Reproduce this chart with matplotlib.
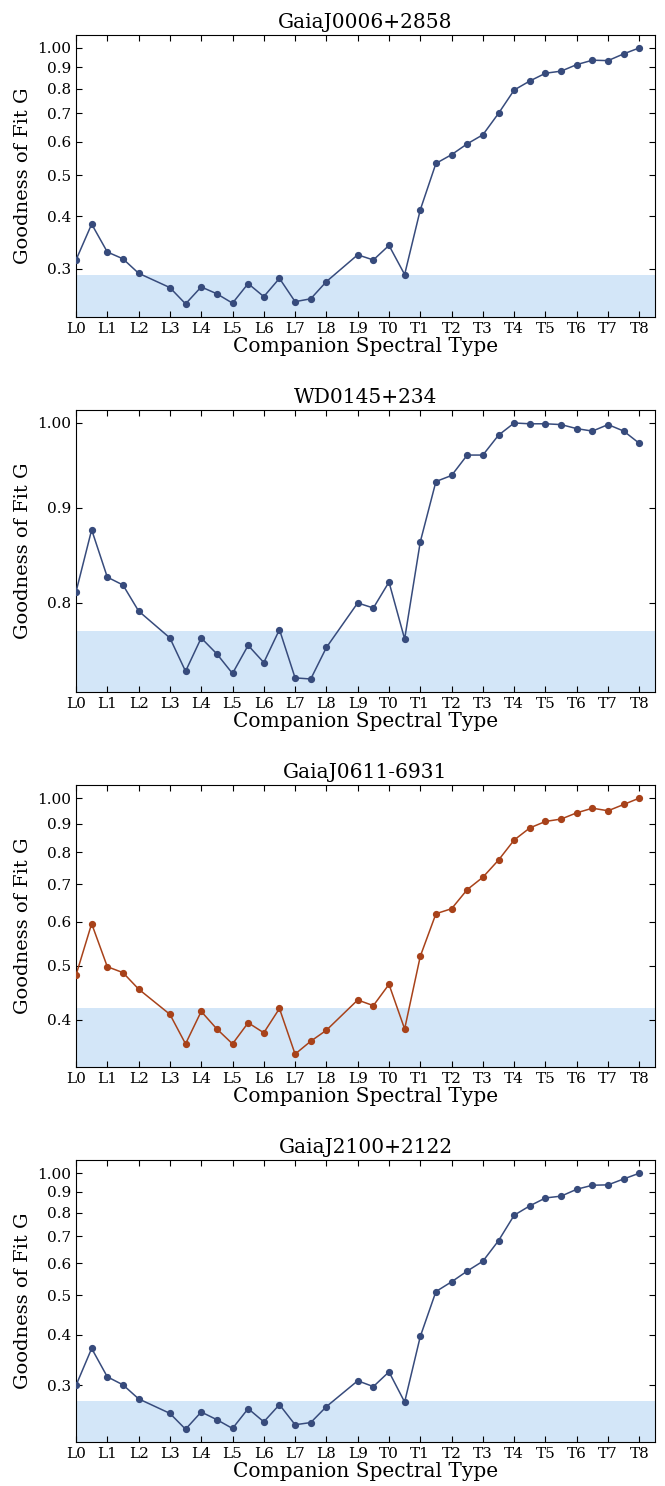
import matplotlib
matplotlib.use("Agg")
import matplotlib.pyplot as plt
import numpy as np

# Spectral types: L0..L9 -> 0..9, T0..T8 -> 10..18 (L2.5 and L8.5 absent)
spt_pos = [0, 0.5, 1, 1.5, 2, 3, 3.5, 4, 4.5, 5, 5.5, 6, 6.5, 7, 7.5, 8,
           9, 9.5, 10, 10.5, 11, 11.5, 12, 12.5, 13, 13.5, 14, 14.5, 15, 15.5,
           16, 16.5, 17, 17.5, 18]
xtick_pos = list(range(19))
xtick_labels = ["L0", "L1", "L2", "L3", "L4", "L5", "L6", "L7", "L8", "L9",
                "T0", "T1", "T2", "T3", "T4", "T5", "T6", "T7", "T8"]

titles = ["GaiaJ0006+2858", "WD0145+234", "GaiaJ0611-6931", "GaiaJ2100+2122"]

g_j0006 = [0.315, 0.383, 0.329, 0.317, 0.293, 0.271, 0.248, 0.272, 0.262, 0.249,
           0.277, 0.258, 0.285, 0.251, 0.255, 0.280,
           0.324, 0.315, 0.341, 0.291, 0.414, 0.533, 0.559, 0.593, 0.623, 0.700,
           0.795, 0.835, 0.871, 0.881, 0.913, 0.935, 0.933, 0.968, 1.000]
g_wd0145 = [0.811, 0.876, 0.826, 0.818, 0.792, 0.766, 0.735, 0.766, 0.751, 0.733,
            0.759, 0.743, 0.774, 0.729, 0.728, 0.757,
            0.800, 0.795, 0.821, 0.765, 0.863, 0.930, 0.937, 0.961, 0.961, 0.985,
            1.000, 0.999, 0.999, 0.998, 0.993, 0.990, 0.998, 0.990, 0.975]
g_j0611 = [0.481, 0.595, 0.498, 0.486, 0.454, 0.409, 0.362, 0.414, 0.385, 0.362,
           0.395, 0.379, 0.419, 0.347, 0.366, 0.383,
           0.434, 0.424, 0.463, 0.385, 0.520, 0.620, 0.633, 0.685, 0.721, 0.774,
           0.841, 0.884, 0.908, 0.917, 0.941, 0.959, 0.949, 0.974, 1.000]
g_j2100 = [0.300, 0.370, 0.315, 0.301, 0.278, 0.256, 0.234, 0.258, 0.247, 0.235,
           0.263, 0.244, 0.269, 0.240, 0.243, 0.266,
           0.308, 0.298, 0.324, 0.273, 0.396, 0.511, 0.540, 0.574, 0.607, 0.682,
           0.788, 0.831, 0.869, 0.878, 0.913, 0.934, 0.936, 0.968, 1.000]
series = [g_j0006, g_wd0145, g_j0611, g_j2100]
thresholds = [0.291, 0.773, 0.419, 0.274]

ytick_vals_full = [0.3, 0.4, 0.5, 0.6, 0.7, 0.8, 0.9, 1.0]
ytick_labels_full = ["0.3", "0.4", "0.5", "0.6", "0.7", "0.8", "0.9", "1.00"]
ytick_vals_wd = [0.8, 0.9, 1.0]
ytick_labels_wd = ["0.8", "0.9", "1.00"]
ytick_vals = [ytick_vals_full, ytick_vals_wd, ytick_vals_full, ytick_vals_full]
ytick_labels = [ytick_labels_full, ytick_labels_wd, ytick_labels_full, ytick_labels_full]

colors = ["#374b7c", "#374b7c", "#a8421a", "#374b7c"]
shade_color = "#d3e6f8"

plt.rcParams['font.family'] = ['DejaVu Serif']
plt.rcParams['mathtext.fontset'] = 'dejavuserif'

fig, axes = plt.subplots(4, 1, figsize=(6.65, 14.86), dpi=100)
fig.subplots_adjust(left=0.1143, right=0.985, top=0.9764, bottom=0.0296, hspace=0.332)

for ax, title, y, thr, yt, ytl, c in zip(axes, titles, series, thresholds,
                                         ytick_vals, ytick_labels, colors):
    ax.set_yscale('log')
    ax.plot(spt_pos, y, '-o', color=c, lw=1.1, ms=4.2, zorder=3)
    ax.set_xlim(0, 18.5)
    ylo, yhi = ax.get_ylim()
    ax.axhspan(ylo, thr, color=shade_color, lw=0, zorder=1)
    ax.yaxis.set_minor_locator(matplotlib.ticker.NullLocator())
    ax.set_yticks(yt)
    ax.set_yticklabels(ytl)
    ax.yaxis.set_minor_formatter(matplotlib.ticker.NullFormatter())
    ax.set_ylim(ylo, yhi)
    ax.set_xticks(xtick_pos)
    ax.set_xticklabels(xtick_labels)
    ax.set_xlim(0, 18.5)
    ax.tick_params(direction='in', top=True, right=True, labelsize=11, length=4)
    ax.set_title(title, fontsize=14.5, pad=5)
    ax.set_xlabel("Companion Spectral Type", fontsize=14.5, labelpad=1)
    ax.set_ylabel("Goodness of Fit G", fontsize=14)

fig.savefig("out.png", dpi=100)
